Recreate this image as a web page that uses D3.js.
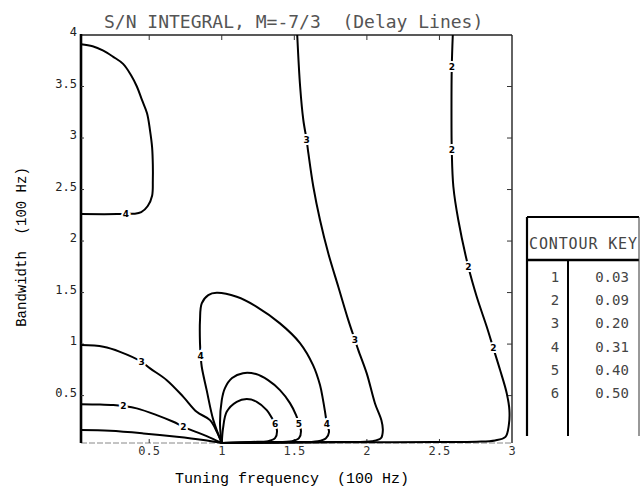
<!DOCTYPE html>
<html>
<head>
<meta charset="utf-8">
<script src="https://cdn.jsdelivr.net/npm/d3@7"></script>
<style>
  body { margin: 0; background: #fff; }
  text { font-family: "DejaVu Sans Mono", monospace; }
</style>
</head>
<body>
<svg id="chart" width="641" height="490"></svg>
<script>
// axis ticks
const xTicks = [0.5, 1, 1.5, 2, 2.5, 3];
const yTicks = [0.5, 1, 1.5, 2, 2.5, 3, 3.5, 4];

// contour key
const keyLevels = [1, 2, 3, 4, 5, 6];
const keyValues = ["0.03", "0.09", "0.20", "0.31", "0.40", "0.50"];

// contour traces [tuning frequency, bandwidth]
const c1Left = [[0.03,0.165],[0.23,0.158],[0.459,0.133],[0.69,0.1],[0.873,0.068],[1.0,0.04]];
const c2Left = [[0.03,0.417],[0.161,0.414],[0.253,0.408],[0.322,0.398],[0.414,0.376],[0.552,0.311],
  [0.666,0.246],[0.735,0.197],[0.804,0.158],[0.896,0.107],[1.0,0.04]];
const c2Right = [[2.592,4.0],[2.585,3.69],[2.583,3.27],[2.585,2.88],[2.596,2.527],[2.63,2.204],
  [2.699,1.75],[2.757,1.459],[2.826,1.168],[2.872,0.958],[2.918,0.748],[2.964,0.521],[2.982,0.359],
  [2.978,0.214],[2.955,0.1],[2.883,0.065],[2.757,0.053],[2.5,0.05],[2.18,0.048],[1.6,0.045],[1.0,0.04]];
const c3Left = [[0.03,0.99],[0.184,0.974],[0.299,0.925],[0.448,0.828],[0.506,0.764],[0.621,0.65],
  [0.735,0.488],[0.827,0.343],[0.919,0.262],[0.967,0.146],[1.0,0.04]];
const c3Mid = [[1.52,4.0],[1.54,3.5],[1.562,3.175],[1.585,2.98],[1.597,2.85],[1.631,2.527],[1.677,2.204],
  [1.734,1.881],[1.803,1.557],[1.872,1.233],[1.918,1.039],[1.941,0.942],[1.999,0.716],[2.056,0.424],
  [2.1,0.26],[2.11,0.165],[2.097,0.087],[2.035,0.058],[1.815,0.05],[1.4,0.045],[1.0,0.04]];
const c4Top = [[0.03,3.91],[0.11,3.89],[0.18,3.85],[0.25,3.79],[0.32,3.72],[0.375,3.61],[0.415,3.5],
  [0.45,3.37],[0.485,3.24],[0.505,3.08],[0.52,2.91],[0.525,2.74],[0.525,2.59],[0.52,2.44],[0.49,2.34],
  [0.445,2.28],[0.395,2.265],[0.34,2.265],[0.28,2.262],[0.03,2.262]];
const c4Loop = [[1.0,0.04],[0.942,0.262],[0.896,0.553],[0.862,0.78],[0.855,0.883],[0.85,1.007],[0.85,1.233],
  [0.862,1.395],[0.907,1.476],[0.965,1.498],[1.103,1.459],[1.241,1.362],[1.401,1.201],[1.539,1.01],
  [1.629,0.796],[1.677,0.602],[1.698,0.456],[1.712,0.34],[1.725,0.223],[1.739,0.146],[1.718,0.087],
  [1.663,0.058],[1.47,0.049],[1.0,0.04]];
const c5Loop = [[1.0,0.04],[0.988,0.214],[1.0,0.456],[1.022,0.573],[1.071,0.67],[1.146,0.718],[1.236,0.709],
  [1.319,0.65],[1.401,0.553],[1.47,0.427],[1.512,0.311],[1.532,0.228],[1.546,0.155],[1.532,0.087],
  [1.484,0.058],[1.3,0.05],[1.0,0.04]];
const c6Loop = [[1.0,0.04],[1.009,0.184],[1.034,0.343],[1.103,0.44],[1.172,0.466],[1.241,0.44],[1.31,0.359],
  [1.346,0.282],[1.367,0.228],[1.381,0.155],[1.367,0.087],[1.319,0.058],[1.2,0.05],[1.0,0.04]];

// [level, x, y]
const contourLabels = [
  [4, 0.34, 2.265],
  [3, 1.585, 2.98], [3, 1.918, 1.039], [3, 0.448, 0.828],
  [2, 2.585, 3.69], [2, 2.585, 2.88], [2, 2.699, 1.75], [2, 2.872, 0.958],
  [2, 0.322, 0.398], [2, 0.735, 0.197],
  [4, 0.855, 0.883], [4, 1.725, 0.223], [5, 1.532, 0.228], [6, 1.367, 0.228]
];

const contours = [c1Left, c2Left, c2Right, c3Left, c3Mid, c4Top, c4Loop, c5Loop, c6Loop];

const svg = d3.select("#chart");

const x = d3.scaleLinear().domain([0.03, 3]).range([81, 512]);
const y = d3.scaleLinear().domain([0.04, 4]).range([443, 35]);

// title
svg.append("text")
  .attr("x", 104).attr("y", 28)
  .attr("font-size", 18)
  .attr("fill", "#555")
  .attr("xml:space", "preserve")
  .text("S/N INTEGRAL, M=-7/3  (Delay Lines)");

// frame
svg.append("line").attr("x1", x(0.03)).attr("x2", x(3)).attr("y1", y(0.04)).attr("y2", y(0.04))
  .attr("stroke", "#888").attr("stroke-width", 1).attr("stroke-dasharray", "6,2");
svg.append("line").attr("x1", x(0.03)).attr("x2", x(3)).attr("y1", y(4)).attr("y2", y(4))
  .attr("stroke", "#222").attr("stroke-width", 1.6);
svg.append("line").attr("x1", x(3)).attr("x2", x(3)).attr("y1", y(4)).attr("y2", y(0.04))
  .attr("stroke", "#222").attr("stroke-width", 1.4);
svg.append("line").attr("x1", x(0.03)).attr("x2", x(0.03)).attr("y1", y(4) - 1).attr("y2", y(0.04))
  .attr("stroke", "#000").attr("stroke-width", 2.6);

// ticks
const tickG = svg.append("g").attr("stroke", "#333").attr("stroke-width", 1);
tickG.selectAll(".yr").data(yTicks.slice(0, -1)).enter().append("line")
  .attr("x1", x(3)).attr("x2", x(3) - 5).attr("y1", d => y(d)).attr("y2", d => y(d));
tickG.selectAll(".yl").data(yTicks.slice(0, -1)).enter().append("line")
  .attr("x1", x(0.03)).attr("x2", x(0.03) + 3).attr("y1", d => y(d)).attr("y2", d => y(d));
tickG.selectAll(".xt").data(xTicks.slice(0, -1)).enter().append("line")
  .attr("x1", d => x(d)).attr("x2", d => x(d)).attr("y1", y(4)).attr("y2", y(4) + 5);
tickG.selectAll(".xb").data(xTicks.slice(0, -1)).enter().append("line")
  .attr("x1", d => x(d)).attr("x2", d => x(d)).attr("y1", y(0.04)).attr("y2", y(0.04) - 4);

// tick labels
svg.selectAll(".ylab").data(yTicks).enter().append("text")
  .attr("x", 77).attr("y", d => y(d) + 1)
  .attr("text-anchor", "end")
  .attr("font-size", 12)
  .attr("fill", "#222")
  .text(d => d);
svg.selectAll(".xlab").data(xTicks).enter().append("text")
  .attr("x", d => x(d)).attr("y", y(0.04) + 12)
  .attr("text-anchor", "middle")
  .attr("font-size", 12)
  .attr("fill", "#333")
  .text(d => d);

// axis titles
svg.append("text")
  .attr("x", 292).attr("y", 483)
  .attr("text-anchor", "middle")
  .attr("font-size", 15)
  .style("font-family", "'Liberation Mono', monospace")
  .attr("xml:space", "preserve")
  .text("Tuning frequency  (100 Hz)");
svg.append("text")
  .attr("transform", "translate(26,247) rotate(-90)")
  .attr("text-anchor", "middle")
  .attr("font-size", 14)
  .style("font-family", "'Liberation Mono', monospace")
  .attr("xml:space", "preserve")
  .text("Bandwidth  (100 Hz)");

// contours
const line = d3.line()
  .x(d => x(d[0]))
  .y(d => y(d[1]))
  .curve(d3.curveCatmullRom.alpha(0.5));

svg.append("g").selectAll("path").data(contours).enter().append("path")
  .attr("d", line)
  .attr("fill", "none")
  .attr("stroke", "#000")
  .attr("stroke-width", 2)
  .attr("stroke-linejoin", "round");

svg.append("g").selectAll("text").data(contourLabels).enter().append("text")
  .attr("x", d => x(d[1])).attr("y", d => y(d[2]))
  .attr("text-anchor", "middle")
  .attr("dominant-baseline", "central")
  .attr("font-size", 9)
  .attr("font-weight", "bold")
  .style("font-family", "'DejaVu Sans', sans-serif")
  .attr("stroke", "#fff").attr("stroke-width", 4)
  .attr("paint-order", "stroke")
  .attr("fill", "#000")
  .text(d => d[0]);

// contour key table
const key = { left: 527, right: 639, top: 217, head: 260, bottom: 436, mid: 568 };
const rowY = d3.scaleBand().domain(keyLevels).range([265, 405]);
const kg = svg.append("g");
kg.append("line").attr("x1", key.left).attr("x2", key.right).attr("y1", key.top).attr("y2", key.top)
  .attr("stroke", "#000").attr("stroke-width", 2.2);
kg.append("line").attr("x1", key.left).attr("x2", key.right).attr("y1", key.head).attr("y2", key.head)
  .attr("stroke", "#000").attr("stroke-width", 2.4);
kg.append("line").attr("x1", key.left).attr("x2", key.left).attr("y1", key.top).attr("y2", key.bottom)
  .attr("stroke", "#000").attr("stroke-width", 2.2);
kg.append("line").attr("x1", key.mid).attr("x2", key.mid).attr("y1", key.head).attr("y2", key.bottom)
  .attr("stroke", "#000").attr("stroke-width", 2);
kg.append("line").attr("x1", key.right).attr("x2", key.right).attr("y1", key.top).attr("y2", key.bottom)
  .attr("stroke", "#333").attr("stroke-width", 1);
kg.append("text")
  .attr("x", 583).attr("y", 244)
  .attr("text-anchor", "middle")
  .attr("dominant-baseline", "central")
  .attr("font-size", 15)
  .attr("fill", "#444")
  .attr("textLength", 108)
  .text("CONTOUR KEY");
kg.selectAll(".kl").data(keyLevels).enter().append("text")
  .attr("x", 555).attr("y", d => rowY(d) + rowY.bandwidth() / 2)
  .attr("text-anchor", "middle")
  .attr("dominant-baseline", "central")
  .attr("font-size", 14)
  .attr("fill", "#444")
  .text(d => d);
kg.selectAll(".kv").data(keyValues).enter().append("text")
  .attr("x", 612).attr("y", (d, i) => rowY(keyLevels[i]) + rowY.bandwidth() / 2)
  .attr("text-anchor", "middle")
  .attr("dominant-baseline", "central")
  .attr("font-size", 14)
  .attr("fill", "#444")
  .text(d => d);
</script>
</body>
</html>
